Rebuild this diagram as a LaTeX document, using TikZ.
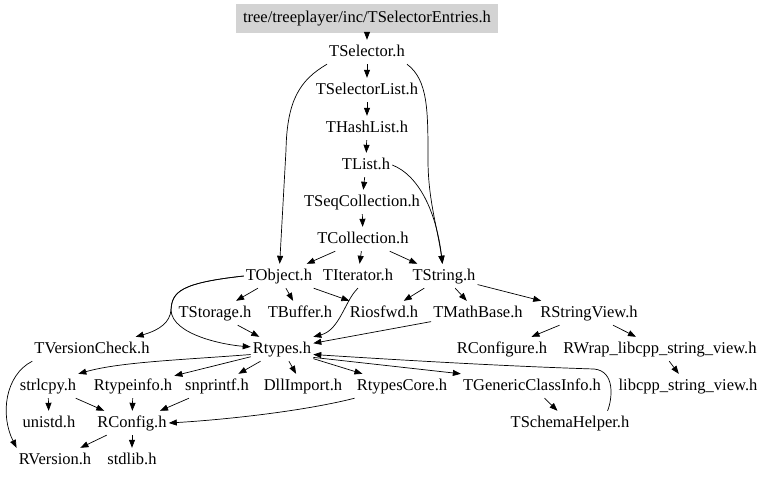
\documentclass[tikz,border=0pt]{standalone}
\usepackage{fontspec}
\setmainfont{Liberation Serif}
\definecolor{hdrgray}{RGB}{211,211,211}
\usetikzlibrary{arrows.meta}

\begin{document}
\begin{tikzpicture}[x=1pt,y=-1pt,font=\fontsize{16.5}{19}\selectfont,
  file/.style={inner xsep=2pt,inner ysep=4.5pt,text height=11.5pt,text depth=3.5pt},
  inc/.style={-{Triangle[length=8pt,width=6pt]},line width=0.7pt}]
  \useasboundingbox (0,0) rectangle (768,479);
  \node[fill=hdrgray,minimum width=262pt,minimum height=29pt,inner sep=0pt] (root) at (367,18.5) {tree/treeplayer/inc/TSelectorEntries.h};
  \node[file] (sel) at (367,52) {TSelector.h};
  \node[file] (sell) at (367,90) {TSelectorList.h};
  \node[file] (hlist) at (367,128) {THashList.h};
  \node[file] (tlist) at (366,165) {TList.h};
  \node[file] (seqc) at (362,202) {TSeqCollection.h};
  \node[file] (coll) at (363,239) {TCollection.h};
  \node[file] (tobj) at (279,276) {TObject.h};
  \node[file] (titer) at (358,276) {TIterator.h};
  \node[file] (tstr) at (444,276) {TString.h};
  \node[file] (tstor) at (215,313) {TStorage.h};
  \node[file] (tbuf) at (300,313) {TBuffer.h};
  \node[file] (riosfwd) at (384,313) {Riosfwd.h};
  \node[file] (tmath) at (478,313) {TMathBase.h};
  \node[file] (rsv) at (589,313) {RStringView.h};
  \node[file] (tvc) at (92,349) {TVersionCheck.h};
  \node[file] (rtypes) at (282,349) {Rtypes.h};
  \node[file] (rconfigure) at (502,349) {RConfigure.h};
  \node[file] (rwrap) at (660,349) {RWrap\_libcpp\_string\_view.h};
  \node[file] (strlcpy) at (48,386) {strlcpy.h};
  \node[file] (rtinfo) at (133,386) {Rtypeinfo.h};
  \node[file] (snpr) at (217,386) {snprintf.h};
  \node[file] (dllimp) at (303,386) {DllImport.h};
  \node[file] (rtcore) at (402,386) {RtypesCore.h};
  \node[file] (tgci) at (532,386) {TGenericClassInfo.h};
  \node[file] (libcpp) at (688,386) {libcpp\_string\_view.h};
  \node[file] (unistd) at (49,423) {unistd.h};
  \node[file] (rconfig) at (132,423) {RConfig.h};
  \node[file] (tsh) at (570,423) {TSchemaHelper.h};
  \node[file] (rversion) at (55,460) {RVersion.h};
  \node[file] (stdlib) at (132,460) {stdlib.h};

  \draw[inc] (root) -- (sel);
  \draw[inc] (sel) -- (sell);
  \draw[inc] (sel.south west) .. controls (300,80) and (287,100) .. (286,150) -- (tobj);
  \draw[inc] (sel.south east) .. controls (428,80) and (428,110) .. (428,160) .. controls (428,200) and (438,230) .. (tstr);
  \draw[inc] (sell) -- (hlist);
  \draw[inc] (hlist) -- (tlist);
  \draw[inc] (tlist) -- (seqc);
  \draw[inc] (tlist.east) .. controls (418,175) and (436,210) .. (tstr);
  \draw[inc] (seqc) -- (coll);
  \draw[inc] (coll) -- (tobj);
  \draw[inc] (coll) -- (titer);
  \draw[inc] (coll) -- (tstr);
  \draw[inc] (tobj) -- (tstor);
  \draw[inc] (tobj) -- (tbuf);
  \draw[inc] (tobj) -- (riosfwd);
  \draw[inc] (tobj.west) .. controls (180,283) and (172,292) .. (171,310) .. controls (170,322) and (160,330) .. (tvc);
  \draw[inc] (tobj.west) .. controls (180,283) and (172,292) .. (171,310) .. controls (172,335) and (225,345) .. (rtypes);
  \draw[inc] (titer.south) .. controls (345,300) and (340,330) .. (rtypes.north east);
  \draw[inc] (tstr) -- (riosfwd);
  \draw[inc] (tstr) -- (tmath);
  \draw[inc] (tstr) -- (rsv);
  \draw[inc] (tstor) -- (rtypes);
  \draw[inc] (tmath) -- (rtypes);
  \draw[inc] (rsv) -- (rconfigure);
  \draw[inc] (rsv) -- (rwrap);
  \draw[inc] (rwrap) -- (libcpp);
  \draw[inc] (rtypes.190) .. controls (180,360) and (120,362) .. (strlcpy.north east);
  \draw[inc] (rtypes) -- (rtinfo);
  \draw[inc] (rtypes) -- (snpr);
  \draw[inc] (rtypes) -- (dllimp);
  \draw[inc] (rtypes) -- (rtcore);
  \draw[inc] (rtypes.-15) -- (tgci.north west);
  \draw[inc] (tsh.18) .. controls (612,400) and (616,371) .. (594,369) .. controls (500,366) and (400,360) .. (rtypes.-10);
  \draw[inc] (tgci) -- (tsh);
  \draw[inc] (tvc.south west) .. controls (5,375) and (0,415) .. (rversion.north west);
  \draw[inc] (strlcpy) -- (unistd);
  \draw[inc] (strlcpy) -- (rconfig);
  \draw[inc] (rtinfo) -- (rconfig);
  \draw[inc] (snpr) -- (rconfig);
  \draw[inc] (rtcore.south west) .. controls (300,412) and (220,420) .. (rconfig.east);
  \draw[inc] (rconfig) -- (rversion);
  \draw[inc] (rconfig) -- (stdlib);
\end{tikzpicture}
\end{document}
